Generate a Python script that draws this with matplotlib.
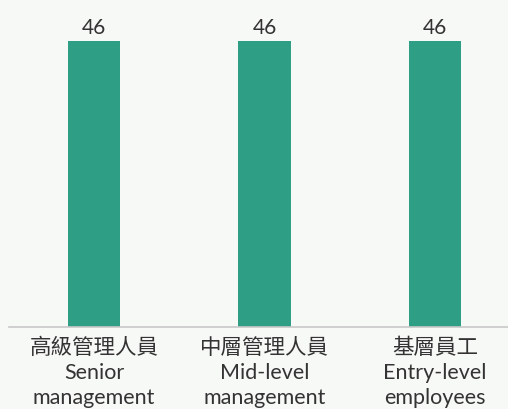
import matplotlib.pyplot as plt

plt.rcParams["font.family"] = ["Lato", "Noto Sans CJK TC", "DejaVu Sans"]

categories = ["高級管理人員\nSenior\nmanagement",
              "中層管理人員\nMid-level\nmanagement",
              "基層員工\nEntry-level\nemployees"]
values = [46, 46, 46]

bg = "#f7f9f6"
fig = plt.figure(figsize=(5.08, 4.09), dpi=100, facecolor=bg)
ax = fig.add_axes([9/508, 1 - 327/409, 1 - 9/508, 327/409])
ax.set_facecolor(bg)

x = range(len(values))
ax.bar(x, values, width=0.305, color="#2e9e85")
for xi, v in zip(x, values):
    ax.text(xi, v + 0.5, str(v), ha="center", va="bottom", fontsize=15,
            color="#333333")

ax.set_xlim(-85/170.5, (508-94)/170.5)
ax.set_ylim(0, 46*327/286)
ax.set_xticks(list(x))
ax.set_xticklabels(categories, fontsize=15.5, color="#333333",
                   linespacing=1.3)
ax.tick_params(axis="x", length=0, pad=8)
ax.set_yticks([])
for s in ["top", "right", "left"]:
    ax.spines[s].set_visible(False)
ax.spines["bottom"].set_color("#c8c8c8")
ax.spines["bottom"].set_linewidth(1.2)

plt.savefig("out.png", dpi=100, facecolor=bg)
